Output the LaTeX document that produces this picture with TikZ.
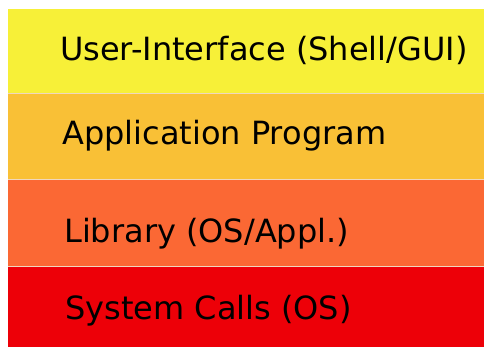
\documentclass[tikz,border=0pt]{standalone}
\usepackage{fontspec}
\setmainfont{DejaVu Sans}
\definecolor{bandA}{RGB}{247,240,56}
\definecolor{bandB}{RGB}{249,192,54}
\definecolor{bandC}{RGB}{251,104,52}
\definecolor{bandD}{RGB}{237,0,8}
\definecolor{sepline}{RGB}{240,215,190}
\begin{document}
\begin{tikzpicture}[x=1pt,y=-1pt,
  band/.style={draw=none},
  lbl/.style={anchor=base west,inner sep=0pt,font=\fontsize{32}{38}\selectfont,text=black},
  sep/.style={draw=sepline,line width=1pt}]
\useasboundingbox (0,0) rectangle (484,347);
\fill[bandA] (8,9) rectangle (484,94);
\fill[bandB] (8,94) rectangle (484,180);
\fill[bandC] (8,180) rectangle (484,266);
\fill[bandD] (8,266) rectangle (484,347);
\draw[sep] (8,94) -- (484,94);
\draw[sep] (8,180) -- (484,180);
\draw[sep] (8,266) -- (484,266);
\node[lbl] (ui) at (60,61) {User-Interface (Shell/GUI)};
\node[lbl] (app) at (62,145) {Application Program};
\node[lbl] (lib) at (64,242) {Library (OS/Appl.)};
\node[lbl] (sys) at (65,319) {System Calls (OS)};
\end{tikzpicture}
\end{document}
